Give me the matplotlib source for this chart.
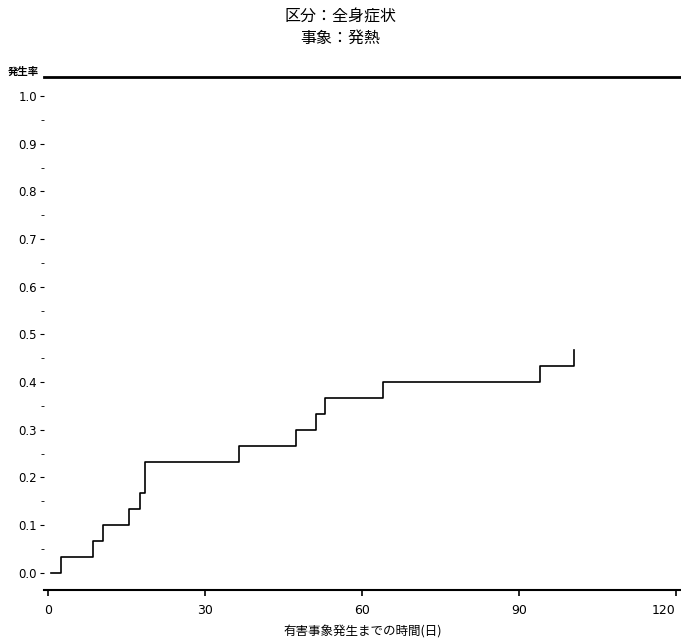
import matplotlib
matplotlib.use("Agg")
import matplotlib.pyplot as plt
from matplotlib.ticker import MultipleLocator

plt.rcParams['font.family'] = ['Noto Sans CJK JP', 'DejaVu Sans']

# Data (cumulative incidence, step function)
event_days = [0.6, 2.5, 8.6, 10.5, 15.5, 17.5, 18.5, 36.5, 47.4, 51.2, 53.0, 64.0, 94.0, 100.6]
incidence = [0.0, 0.033, 0.067, 0.100, 0.133, 0.167, 0.233, 0.267, 0.300, 0.333, 0.367, 0.400, 0.433, 0.467]

x_ticks = [0, 30, 60, 90, 120]
y_ticks = [0.0, 0.1, 0.2, 0.3, 0.4, 0.5, 0.6, 0.7, 0.8, 0.9, 1.0]
y_tick_labels = ["0.0", "0.1", "0.2", "0.3", "0.4", "0.5", "0.6", "0.7", "0.8", "0.9", "1.0"]

title_lines = ["区分：全身症状", "事象：発熱"]
y_label = "発生率"
x_label = "有害事象発生までの時間(日)"

W, H = 681, 643
fig = plt.figure(figsize=(W / 100, H / 100), dpi=100)
ax = fig.add_axes([44 / W, 1 - 590 / H, 1 - 44 / W, (590 - 77) / H])

ax.step(event_days, incidence, where='post', color='black', lw=1.2)

ax.set_xlim(-0.8, 121)
ax.set_ylim(-0.036, 1.04)
ax.set_xticks(x_ticks)
ax.set_xticklabels([str(t) for t in x_ticks], fontsize=9, family=['DejaVu Sans'])
# keep the last label inside the figure
ax.get_xticklabels()[-1].set_horizontalalignment('right')
ax.set_yticks(y_ticks)
ax.set_yticklabels(y_tick_labels, fontsize=8.5, family=['DejaVu Sans'])
ax.yaxis.set_minor_locator(MultipleLocator(0.05))

for s in ['left', 'right']:
    ax.spines[s].set_visible(False)
ax.spines['top'].set_linewidth(2.0)
ax.spines['bottom'].set_linewidth(1.5)

ax.tick_params(axis='y', which='major', length=3, width=0.8, pad=2)
ax.tick_params(axis='y', which='minor', length=2, width=0.6)
ax.tick_params(axis='x', which='major', length=4, width=1.2, pad=6)

ax.set_xlabel(x_label, fontsize=9, labelpad=6)
ax.text(-0.008, 1.0, y_label, transform=ax.transAxes, ha='right', va='bottom',
        fontsize=7.5, fontweight='bold')

fig.text(340 / W, 1 - 17 / H, title_lines[0], ha='center', va='center', fontsize=11.5)
fig.text(340 / W, 1 - 38 / H, title_lines[1], ha='center', va='center', fontsize=11.5)

fig.savefig("out.png", dpi=100)
